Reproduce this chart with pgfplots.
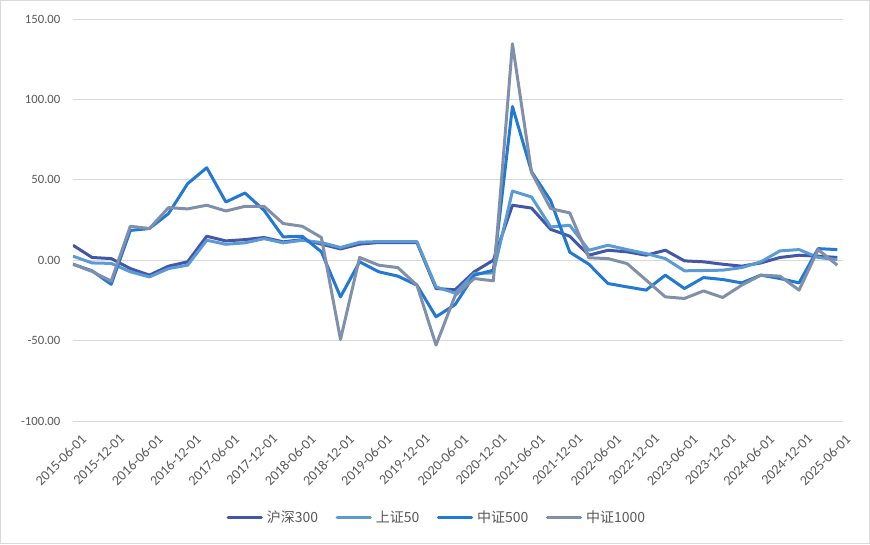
\documentclass[border=0pt]{standalone}
\usepackage{pgfplots}
\pgfplotsset{compat=1.18}
\usepackage{fontspec}
\setmainfont{Carlito}
\newfontfamily\cjk{Noto Sans CJK SC}
\definecolor{cHS}{HTML}{4356A7}
\definecolor{cSZ}{HTML}{5B9BD5}
\definecolor{cZ5}{HTML}{2179D3}
\definecolor{cZ1}{HTML}{8090AA}
\definecolor{gridc}{HTML}{D9D9D9}
\definecolor{txt}{HTML}{595959}
\begin{document}
\begin{tikzpicture}
\useasboundingbox (0,0) rectangle (652.5pt,408pt);
\draw[draw=gridc, line width=0.75pt] (0.4pt,0.4pt) rectangle (652.1pt,407.6pt);
\begin{axis}[
  at={(54.75pt,92.25pt)}, anchor=south west,
  scale only axis, width=577.5pt, height=301.5pt,
  xmin=0, xmax=40.3, ymin=-100, ymax=150,
  ytick={-100,-50,0,50,100,150},
  xtick={0,2,...,40},
  xticklabels={2015-06-01,2015-12-01,2016-06-01,2016-12-01,2017-06-01,2017-12-01,2018-06-01,2018-12-01,2019-06-01,2019-12-01,2020-06-01,2020-12-01,2021-06-01,2021-12-01,2022-06-01,2022-12-01,2023-06-01,2023-12-01,2024-06-01,2024-12-01,2025-06-01},
  axis line style={draw=none},
  tick style={draw=none},
  ymajorgrids, grid style={draw=gridc, line width=0.75pt},
  font=\fontsize{9.5}{11}\selectfont,
  tick label style={text=txt},
  /pgf/number format/assume math mode=true,
  yticklabel style={/pgf/number format/fixed, /pgf/number format/fixed zerofill, /pgf/number format/precision=2, xshift=-6pt},
  xticklabel style={rotate=45, anchor=north east, xshift=1pt, yshift=-7pt, font=\fontsize{10.5}{12}\selectfont},
  legend columns=4,
  legend style={at={(0.473,-0.241)}, anchor=center, draw=none, font=\cjk\fontsize{10.5}{12}\selectfont, text=txt,
    /tikz/every even column/.append style={column sep=11pt},
    /tikz/every odd column/.append style={column sep=1pt}},
  legend image code/.code={\draw[#1, line width=2.25pt, line cap=round] (0pt,0pt) -- (25pt,0pt);},
  every axis plot/.append style={line width=2.25pt, line join=round, mark=none},
]
\addplot[cHS] coordinates {(0,9.3)(1,1.7)(2,1.0)(3,-5.2)(4,-9.3)(5,-3.7)(6,-1.0)(7,14.9)(8,12.0)(9,12.8)(10,14.1)(11,11.4)(12,12.8)(13,10.0)(14,7.0)(15,10.0)(16,11.0)(17,11.0)(18,11.0)(19,-17.6)(20,-18.4)(21,-7.2)(22,0.0)(23,34.2)(24,32.4)(25,19.2)(26,14.9)(27,3.1)(28,6.2)(29,5.2)(30,3.1)(31,6.2)(32,-0.4)(33,-1.0)(34,-2.5)(35,-3.7)(36,-1.7)(37,1.7)(38,3.1)(39,2.5)(40,1.7)};
\addlegendentry{沪深300}
\addplot[cSZ] coordinates {(0,2.5)(1,-1.7)(2,-2.0)(3,-7.2)(4,-10.4)(5,-5.2)(6,-3.1)(7,12.4)(8,9.9)(9,10.8)(10,13.4)(11,10.8)(12,12.4)(13,11.0)(14,7.9)(15,11.2)(16,11.6)(17,11.6)(18,11.6)(19,-16.6)(20,-20.5)(21,-8.3)(22,-7.9)(23,43.0)(24,39.3)(25,20.7)(26,21.7)(27,6.2)(28,9.3)(29,6.6)(30,4.1)(31,1.0)(32,-6.6)(33,-6.4)(34,-6.2)(35,-4.6)(36,-1.0)(37,5.8)(38,6.6)(39,1.7)(40,0.4)};
\addlegendentry{上证50}
\addplot[cZ5] coordinates {(0,-2.5)(1,-6.6)(2,-15.0)(3,18.5)(4,19.7)(5,29.0)(6,47.6)(7,57.5)(8,36.2)(9,41.8)(10,31.0)(11,14.5)(12,14.9)(13,5.2)(14,-22.8)(15,-1.0)(16,-7.2)(17,-9.9)(18,-15.5)(19,-35.2)(20,-27.6)(21,-9.3)(22,-6.2)(23,95.6)(24,55.0)(25,37.0)(26,5.0)(27,-2.5)(28,-14.5)(29,-16.6)(30,-18.6)(31,-9.3)(32,-17.6)(33,-10.8)(34,-12.0)(35,-14.1)(36,-9.3)(37,-11.4)(38,-14.1)(39,7.2)(40,6.6)};
\addlegendentry{中证500}
\addplot[cZ1] coordinates {(0,-2.5)(1,-7.0)(2,-13.0)(3,21.1)(4,19.7)(5,32.7)(6,31.9)(7,34.2)(8,30.6)(9,33.5)(10,33.5)(11,22.8)(12,21.1)(13,14.1)(14,-49.3)(15,1.7)(16,-3.1)(17,-4.6)(18,-15.5)(19,-52.8)(20,-22.0)(21,-11.4)(22,-12.8)(23,134.6)(24,54.5)(25,32.1)(26,29.4)(27,1.5)(28,1.0)(29,-2.1)(30,-12.4)(31,-22.8)(32,-23.8)(33,-19.1)(34,-23.2)(35,-15.5)(36,-9.3)(37,-9.9)(38,-18.6)(39,6.6)(40,-3.1)};
\addlegendentry{中证1000}
\end{axis}
\end{tikzpicture}
\end{document}
